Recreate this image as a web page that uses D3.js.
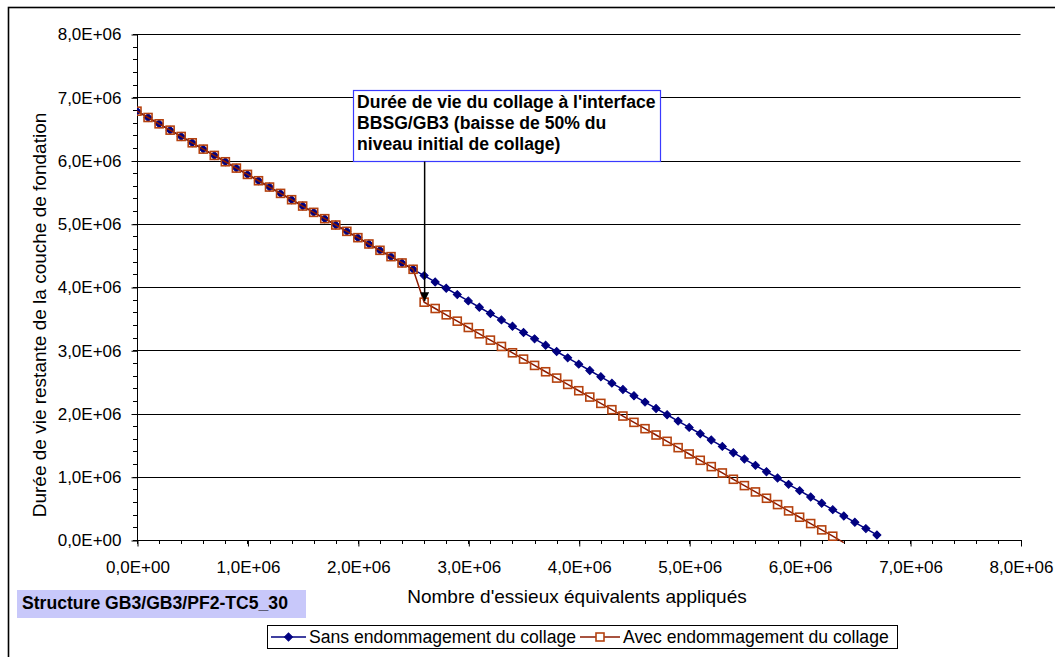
<!DOCTYPE html>
<html>
<head>
<meta charset="utf-8">
<script src="https://cdn.jsdelivr.net/npm/d3@7"></script>
<style>
html,body{margin:0;padding:0;background:#fff;}
svg{display:block;font-family:"Liberation Sans",Arial,sans-serif;}
</style>
</head>
<body>
<svg id="chart" width="1055" height="657"></svg>
<script>
// Data (values in millions of equivalent axles)
const xSans = [0,0.1,0.2,0.3,0.4,0.5,0.6,0.7,0.8,0.9,1.0,1.1,1.2,1.3,1.4,1.5,1.6,1.7,1.8,1.9,2.0,2.1,2.2,2.3,2.4,2.5,2.6,2.7,2.8,2.9,3.0,3.1,3.2,3.3,3.4,3.5,3.6,3.7,3.8,3.9,4.0,4.1,4.2,4.3,4.4,4.5,4.6,4.7,4.8,4.9,5.0,5.1,5.2,5.3,5.4,5.5,5.6,5.7,5.8,5.9,6.0,6.1,6.2,6.3,6.4,6.5,6.6,6.7];
const ySans = [6.78,6.68,6.58,6.48,6.38,6.28,6.18,6.08,5.98,5.88,5.78,5.68,5.58,5.48,5.38,5.28,5.18,5.08,4.98,4.88,4.78,4.68,4.58,4.48,4.38,4.28,4.18,4.08,3.98,3.88,3.78,3.68,3.58,3.48,3.38,3.28,3.18,3.08,2.98,2.88,2.78,2.68,2.58,2.48,2.38,2.28,2.18,2.08,1.98,1.88,1.78,1.68,1.58,1.48,1.38,1.28,1.18,1.08,0.98,0.88,0.78,0.68,0.58,0.48,0.38,0.28,0.18,0.08];
const xAvec = [0,0.1,0.2,0.3,0.4,0.5,0.6,0.7,0.8,0.9,1.0,1.1,1.2,1.3,1.4,1.5,1.6,1.7,1.8,1.9,2.0,2.1,2.2,2.3,2.4,2.5,2.6,2.7,2.8,2.9,3.0,3.1,3.2,3.3,3.4,3.5,3.6,3.7,3.8,3.9,4.0,4.1,4.2,4.3,4.4,4.5,4.6,4.7,4.8,4.9,5.0,5.1,5.2,5.3,5.4,5.5,5.6,5.7,5.8,5.9,6.0,6.1,6.2,6.3,6.4];
const yAvec = [6.78,6.68,6.58,6.48,6.38,6.28,6.18,6.08,5.98,5.88,5.78,5.68,5.58,5.48,5.38,5.28,5.18,5.08,4.98,4.88,4.78,4.68,4.58,4.48,4.38,4.28,3.76,3.66,3.56,3.46,3.36,3.26,3.16,3.06,2.96,2.86,2.76,2.66,2.56,2.46,2.36,2.26,2.16,2.06,1.96,1.86,1.76,1.66,1.56,1.46,1.36,1.26,1.16,1.06,0.96,0.86,0.76,0.66,0.56,0.46,0.36,0.26,0.16,0.06,-0.04];
const seriesNames = ["Sans endommagement du collage","Avec endommagement du collage"];
const tickValues = [0,1,2,3,4,5,6,7,8];
const xTickLabels = ["0,0E+00","1,0E+06","2,0E+06","3,0E+06","4,0E+06","5,0E+06","6,0E+06","7,0E+06","8,0E+06"];
const yTickLabels = ["0,0E+00","1,0E+06","2,0E+06","3,0E+06","4,0E+06","5,0E+06","6,0E+06","7,0E+06","8,0E+06"];
const minorTicks = d3.range(0, 8.0001, 0.2);
const annotationPoint = [2.6, 3.76];
const annotationLines = ["Durée de vie du collage à l'interface","BBSG/GB3 (baisse de 50% du","niveau initial de collage)"];
const xTitle = "Nombre d'essieux équivalents appliqués";
const yTitle = "Durée de vie restante de la couche de fondation";
const structureLabel = "Structure GB3/GB3/PF2-TC5_30";

const svg = d3.select("#chart");
const FS = 17, FT = 19, FL = 17.6, FB = 17.6;
const X0 = 137, X1 = 1020.5, Y0 = 540, Y1 = 34;
const x = d3.scaleLinear().domain([0,8]).range([X0,X1]);
const y = d3.scaleLinear().domain([0,8]).range([Y0,Y1]);

const blue = "#000080", redLine = "#8b1a00", redMark = "#b5420f";

// outer border
svg.append("rect").attr("x",8.5).attr("y",7.5).attr("width",1200).attr("height",800)
  .attr("fill","none").attr("stroke","#000").attr("stroke-width",1.6);

// gridlines
svg.append("g").selectAll("line").data(tickValues.slice(1)).join("line")
  .attr("x1",X0).attr("x2",X1)
  .attr("y1",d=>Math.round(y(d))+0.5).attr("y2",d=>Math.round(y(d))+0.5)
  .attr("stroke","#000").attr("stroke-width",1);

// minor ticks
const g = svg.append("g");
g.selectAll(".myt").data(minorTicks).join("line")
  .attr("x1",X0-4).attr("x2",X0).attr("y1",d=>Math.round(y(d))+0.5).attr("y2",d=>Math.round(y(d))+0.5)
  .attr("stroke","#000");
g.selectAll(".mxt").data(minorTicks).join("line")
  .attr("y1",Y0).attr("y2",Y0+4).attr("x1",d=>Math.round(x(d))+0.5).attr("x2",d=>Math.round(x(d))+0.5)
  .attr("stroke","#000");

// axes
const yAxis = d3.axisLeft(y).tickValues(tickValues).tickSize(6).tickPadding(10)
  .tickFormat((d,i)=>yTickLabels[i]);
const xAxis = d3.axisBottom(x).tickValues(tickValues).tickSize(6).tickPadding(14)
  .tickFormat((d,i)=>xTickLabels[i]);
const ya = svg.append("g").attr("transform",`translate(${X0+0.5},0.5)`).call(yAxis);
const xa = svg.append("g").attr("transform",`translate(0.5,${Y0+0.5})`).call(xAxis);
[ya,xa].forEach(a=>{
  a.select(".domain").remove();
  a.selectAll("line").attr("stroke","#000");
  a.selectAll("text").attr("font-size",FS).attr("fill","#000")
   .attr("font-family",'"Liberation Sans",Arial,sans-serif');
});
svg.append("line").attr("x1",X0+0.5).attr("x2",X0+0.5).attr("y1",Y1).attr("y2",Y0+0.5).attr("stroke","#000");
svg.append("line").attr("x1",X0).attr("x2",X1+0.5).attr("y1",Y0+0.5).attr("y2",Y0+0.5).attr("stroke","#000");

// clip
svg.append("clipPath").attr("id","clip").append("rect")
  .attr("x",X0).attr("y",Y1-6).attr("width",X1-X0+6).attr("height",Y0-Y1+11);

const lineGen = d3.line().x(d=>x(d[0])).y(d=>y(d[1]));
const sans = xSans.map((v,i)=>[v,ySans[i]]);
const avec = xAvec.map((v,i)=>[v,yAvec[i]]);

const plot = svg.append("g").attr("clip-path","url(#clip)");
plot.append("path").attr("d",lineGen(sans)).attr("fill","none").attr("stroke",blue).attr("stroke-width",1.5);
plot.selectAll(".dm").data(sans.filter(d=>d[1]>=0)).join("path")
  .attr("d",d3.symbol().type(d3.symbolSquare).size(32)())
  .attr("transform",d=>`translate(${x(d[0])},${y(d[1])}) rotate(45)`)
  .attr("fill",blue).attr("stroke",blue).attr("stroke-width",1);

plot.append("path").attr("d",lineGen(avec)).attr("fill","none").attr("stroke",redLine).attr("stroke-width",1.5);
plot.selectAll(".sq").data(avec.filter(d=>d[1]>=0)).join("rect")
  .attr("x",d=>x(d[0])-4).attr("y",d=>y(d[1])-4).attr("width",8).attr("height",8)
  .attr("fill","none").attr("stroke",redMark).attr("stroke-width",1.6);

// annotation
const boxX = 353.5, boxY = 90.5, boxW = 307, boxH = 71;
svg.append("rect").attr("x",boxX).attr("y",boxY).attr("width",boxW).attr("height",boxH)
  .attr("fill","#fff").attr("stroke","#3a3aff").attr("stroke-width",1.2);
svg.append("text").attr("x",boxX+3.5).attr("y",boxY+17).attr("font-size",FB).attr("font-weight","bold")
  .selectAll("tspan").data(annotationLines).join("tspan")
  .attr("x",boxX+3.5).attr("dy",(d,i)=>i===0?0:21).text(d=>d);
svg.append("defs").append("marker").attr("id","arr").attr("viewBox","0 0 10 10")
  .attr("refX",10).attr("refY",5).attr("markerWidth",6).attr("markerHeight",6).attr("orient","auto")
  .attr("markerUnits","strokeWidth")
  .append("path").attr("d","M0,0 L10,5 L0,10 Z").attr("fill","#000");
svg.append("line").attr("x1",x(annotationPoint[0])+0.5).attr("x2",x(annotationPoint[0])+0.5)
  .attr("y1",boxY+boxH).attr("y2",y(annotationPoint[1])-1)
  .attr("stroke","#000").attr("stroke-width",1.5).attr("marker-end","url(#arr)");

// axis titles
svg.append("text").attr("x",577).attr("y",603).attr("text-anchor","middle").attr("font-size",FT).text(xTitle);
svg.append("text").attr("transform","translate(46,315) rotate(-90)").attr("text-anchor","middle").attr("font-size",FT).text(yTitle);

// structure label
svg.append("rect").attr("x",17).attr("y",590).attr("width",289).attr("height",28).attr("fill","#c8c8fa");
svg.append("text").attr("x",22).attr("y",609).attr("font-size",FB).attr("font-weight","bold").text(structureLabel);

// legend
const lg = svg.append("g");
lg.append("rect").attr("x",267.5).attr("y",625.5).attr("width",630).attr("height",23)
  .attr("fill","#fff").attr("stroke","#000").attr("stroke-width",1);
const items = [
  {name:seriesNames[0], x1:271, x2:306, tx:309, color:blue, mark:"d"},
  {name:seriesNames[1], x1:580, x2:620, tx:623, color:redLine, mark:"s"}
];
items.forEach(it=>{
  const cy = 637;
  lg.append("line").attr("x1",it.x1).attr("x2",it.x2).attr("y1",cy).attr("y2",cy).attr("stroke",it.color).attr("stroke-width",1.5);
  const cx = (it.x1+it.x2)/2;
  if(it.mark==="d"){
    lg.append("path").attr("d",d3.symbol().type(d3.symbolSquare).size(32)())
      .attr("transform",`translate(${cx},${cy}) rotate(45)`).attr("fill",blue).attr("stroke",blue);
  } else {
    lg.append("rect").attr("x",cx-4).attr("y",cy-4).attr("width",8).attr("height",8)
      .attr("fill","#fff").attr("stroke",redMark).attr("stroke-width",1.6);
  }
  lg.append("text").attr("x",it.tx).attr("y",cy+6).attr("font-size",FL).text(it.name);
});
</script>
</body>
</html>
